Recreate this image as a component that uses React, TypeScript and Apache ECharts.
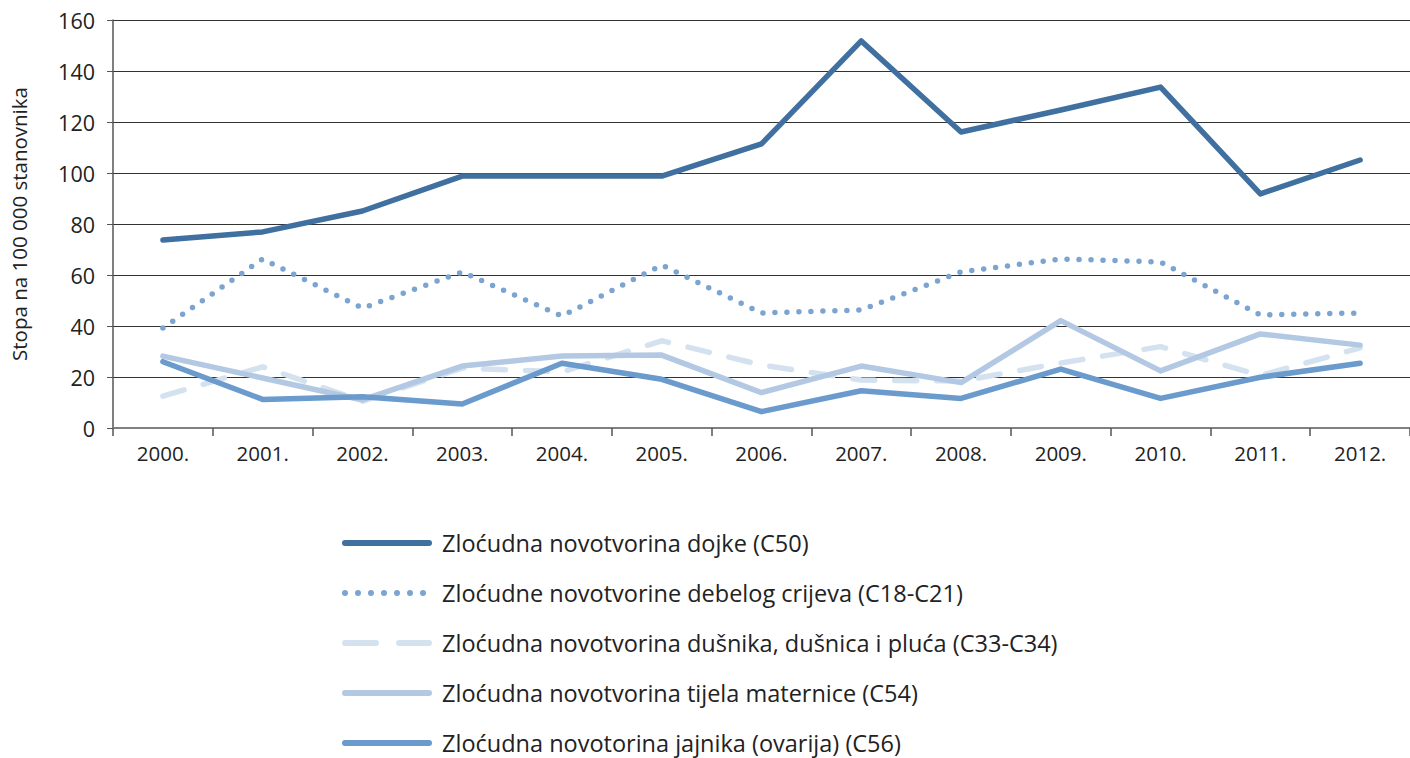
import React, { useEffect, useRef } from "react";
import * as echarts from "echarts";

const years = ["2000.", "2001.", "2002.", "2003.", "2004.", "2005.", "2006.", "2007.", "2008.", "2009.", "2010.", "2011.", "2012."];
const yTicks = [0, 20, 40, 60, 80, 100, 120, 140, 160];

const names = [
  "Zloćudna novotvorina dojke (C50)",
  "Zloćudne novotvorine debelog crijeva (C18-C21)",
  "Zloćudna novotvorina dušnika, dušnica i pluća (C33-C34)",
  "Zloćudna novotvorina tijela maternice (C54)",
  "Zloćudna novotorina jajnika (ovarija) (C56)",
];

const breast = [73.7, 76.9, 85.1, 98.8, 98.8, 98.8, 111.4, 151.8, 116.1, 124.7, 133.7, 91.8, 105.1];
const colorectal = [39.2, 66.3, 47.0, 61.2, 43.9, 63.9, 45.1, 46.3, 61.2, 66.3, 65.1, 44.3, 45.1];
const lung = [12.5, 24.0, 10.5, 23.5, 22.0, 34.2, 24.7, 18.8, 18.4, 25.5, 31.9, 20.6, 31.4];
const uterus = [28.2, 19.6, 11.0, 24.3, 28.2, 28.6, 13.9, 24.3, 17.8, 42.1, 22.4, 36.9, 32.5];
const ovary = [26.0, 11.2, 12.3, 9.4, 25.4, 19.1, 6.4, 14.6, 11.6, 23.1, 11.6, 19.9, 25.4];

const colors = ["#3f70a0", "#7ba4d0", "#d4e2f0", "#b3c9e3", "#6a9bcc"];
const FONT = "'Open Sans', sans-serif";

export default function App() {
  const ref = useRef<HTMLDivElement>(null);
  useEffect(() => {
    if (!ref.current) return;
    const chart = echarts.init(ref.current, null, { renderer: "svg" });
    const mk = (i: number, data: number[], type: any, order: number) => ({
      name: names[i],
      type: "line",
      data,
      symbol: "none",
      z: order,
      lineStyle: { color: colors[i], width: 5.5, type, cap: "round", join: "round" },
      itemStyle: { color: colors[i] },
    });
    chart.setOption({
      animation: false,
      grid: { left: 111, right: 0, top: 20, bottom: 330, containLabel: false },
      xAxis: {
        type: "category",
        data: years,
        boundaryGap: true,
        axisLine: { lineStyle: { color: "#808080", width: 2 } },
        axisTick: { show: true, length: 8, lineStyle: { color: "#555", width: 1.5 } },
        axisLabel: { color: "#222", fontSize: 20.5, fontFamily: FONT, margin: 14 },
      },
      yAxis: {
        type: "value",
        min: yTicks[0],
        max: yTicks[yTicks.length - 1],
        interval: 20,
        name: "Stopa na 100 000 stanovnika",
        nameLocation: "middle",
        nameGap: 84,
        nameRotate: 90,
        nameTextStyle: { color: "#222", fontSize: 20.5, fontFamily: FONT },
        axisLine: { show: true, lineStyle: { color: "#555", width: 1.5 } },
        axisTick: { show: true, length: 6, lineStyle: { color: "#555" } },
        axisLabel: { color: "#222", fontSize: 21.5, fontFamily: FONT, margin: 18 },
        splitLine: { show: true, lineStyle: { color: "#333", width: 1 } },
      },
      legend: {
        orient: "vertical",
        left: 342,
        top: 531,
        padding: 0,
        itemWidth: 84,
        itemHeight: 24,
        itemGap: 26,
        itemStyle: { opacity: 0 },
        lineStyle: { width: 6, cap: "round" },
        textStyle: { color: "#222", fontSize: 23.5, lineHeight: 24, fontFamily: FONT, padding: [0, 0, 0, 8] },
        data: [
          { name: names[0] },
          { name: names[1], lineStyle: { type: [0, 13], width: 6, cap: "round" } },
          { name: names[2], lineStyle: { type: [31, 23], width: 6, cap: "round" } },
          { name: names[3] },
          { name: names[4] },
        ],
      },
      series: [
        mk(2, lung, [22, 20], 1),
        mk(3, uterus, "solid", 2),
        mk(4, ovary, "solid", 3),
        mk(1, colorectal, [0, 12], 4),
        mk(0, breast, "solid", 5),
      ],
    });
    return () => chart.dispose();
  }, []);
  return (
    <div
      ref={ref}
      style={{ position: "fixed", left: 0, top: 0, width: 1410, height: 758, background: "#fff" }}
    />
  );
}
